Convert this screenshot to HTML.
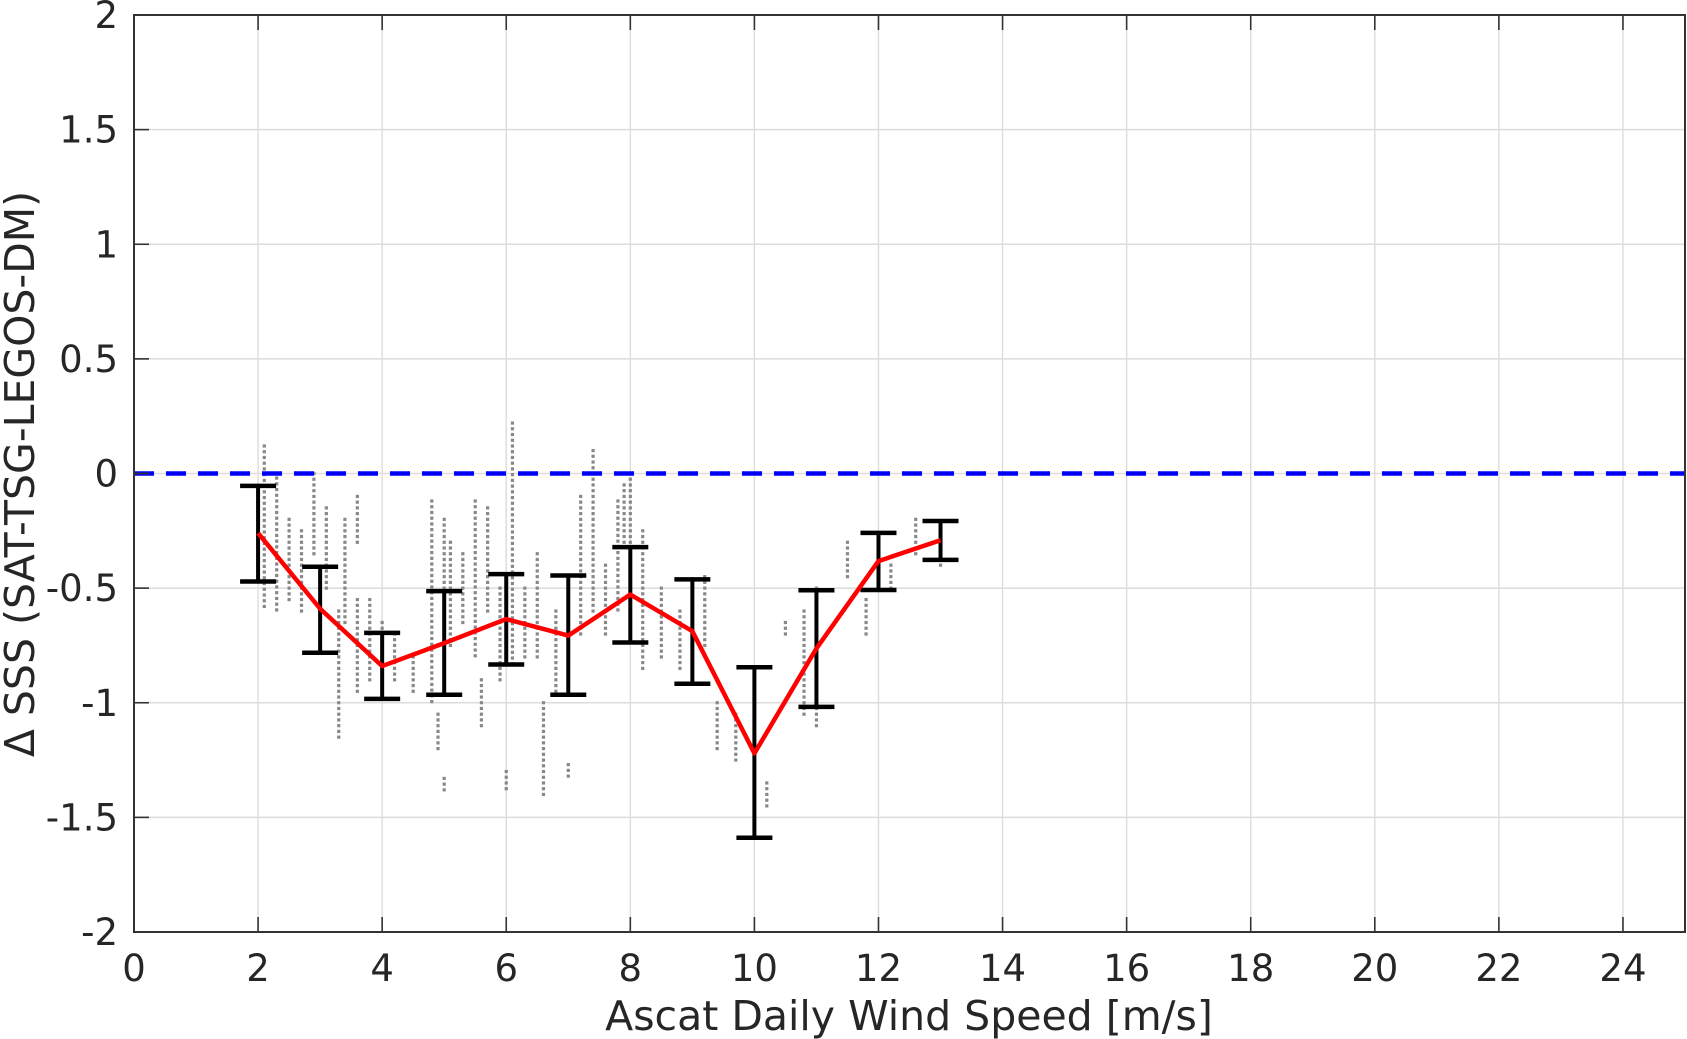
<!DOCTYPE html>
<html><head><meta charset="utf-8"><style>
html,body{margin:0;padding:0;background:#fff;}
svg{display:block;font-family:"DejaVu Sans","Liberation Sans",sans-serif;}
</style></head><body>
<svg id="chart" width="1687" height="1039" viewBox="0 0 1687 1039" xmlns="http://www.w3.org/2000/svg">
<rect x="0" y="0" width="1687" height="1039" fill="#fff"/>
<g id="grid"></g>
<g id="scatter"></g>
<g id="zero"></g>
<g id="bars"></g>
<g id="mean"></g>
<g id="axes"></g>
<text x="909" y="1030" font-size="41" fill="#262626" text-anchor="middle">Ascat Daily Wind Speed [m/s]</text>
<text transform="translate(34,474) rotate(-90)" font-size="41" fill="#262626" text-anchor="middle">Δ SSS (SAT-TSG-LEGOS-DM)</text>
</svg>
<script>
const xTicks=[0,2,4,6,8,10,12,14,16,18,20,22,24];
const yTicks=[-2,-1.5,-1,-0.5,0,0.5,1,1.5,2];
const yTickLabels=["-2","-1.5","-1","-0.5","0","0.5","1","1.5","2"];
const binX=[2,3,4,5,6,7,8,9,10,11,12,13];
const binMean=[-0.26,-0.59,-0.84,-0.74,-0.635,-0.707,-0.528,-0.688,-1.221,-0.763,-0.382,-0.291];
const binUpper=[-0.054,-0.407,-0.695,-0.513,-0.439,-0.445,-0.321,-0.462,-0.845,-0.509,-0.259,-0.207];
const binLower=[-0.471,-0.782,-0.983,-0.965,-0.833,-0.965,-0.737,-0.917,-1.589,-1.018,-0.508,-0.377];
const colX=[2.1,2.3,2.5,2.7,2.9,3.1,3.3,3.4,3.6,3.8,4.0,4.2,4.5,4.8,5.0,5.1,5.3,5.5,5.7,5.9,6.1,6.3,6.5,6.8,7.0,7.2,7.4,7.6,7.8,8.0,8.2,8.5,8.8,9.2,9.4,9.7,10.2,10.5,10.8,11.0,11.5,11.8,12.2,12.6,13.0,5.0,6.0,7.0,6.6,3.6,4.9,5.6,7.9];
const colTop=[0.12,-0.02,-0.2,-0.25,0.0,-0.15,-0.6,-0.2,-0.55,-0.55,-0.65,-0.7,-0.8,-0.12,-0.2,-0.3,-0.35,-0.12,-0.15,-0.5,0.22,-0.5,-0.35,-0.6,-0.5,-0.1,0.1,-0.4,-0.12,0.0,-0.25,-0.5,-0.6,-0.45,-1.0,-1.05,-1.35,-0.65,-0.6,-0.5,-0.3,-0.55,-0.4,-0.2,-0.25,-1.33,-1.3,-1.27,-1.0,-0.1,-1.05,-0.9,-0.05];
const colBot=[-0.6,-0.6,-0.55,-0.6,-0.35,-0.5,-1.15,-0.65,-0.95,-0.9,-0.95,-0.9,-0.95,-1.0,-0.9,-0.75,-0.65,-0.8,-0.6,-0.9,-0.85,-0.8,-0.8,-0.95,-0.9,-0.7,-0.6,-0.7,-0.6,-0.7,-0.85,-0.8,-0.85,-0.75,-1.2,-1.25,-1.45,-0.7,-1.05,-1.1,-0.45,-0.7,-0.5,-0.35,-0.4,-1.4,-1.38,-1.33,-1.4,-0.3,-1.2,-1.1,-0.3];
const L=134,R=1685,T=15,B=932,X0=0,X1=25,Y0=-2,Y1=2;
const sx=v=>L+(v-X0)/(X1-X0)*(R-L);
const sy=v=>B-(v-Y0)/(Y1-Y0)*(B-T);
const NS="http://www.w3.org/2000/svg";
function mk(tag,parent,attrs){const e=document.createElementNS(NS,tag);for(const k in attrs)e.setAttribute(k,attrs[k]);document.getElementById(parent).appendChild(e);return e;}
xTicks.forEach((t,i)=>{
 const g=mk('line','grid',{x1:sx(t),x2:sx(t),y1:T,y2:B,stroke:'#dcdcdc','stroke-width':1.4});
 
 
 const tk=mk('line','axes',{x1:sx(t),x2:sx(t),y1:B,y2:B-15,stroke:'#333','stroke-width':1.6});
 
 
 const tk2=mk('line','axes',{x1:sx(t),x2:sx(t),y1:T,y2:T+15,stroke:'#333','stroke-width':1.6});
 
 
 const lb=mk('text','axes',{x:sx(t),y:981,'font-size':37,fill:'#262626','text-anchor':'middle'});
 lb.textContent=String(t);
 
 
});
yTicks.forEach((t,i)=>{
 const g=mk('line','grid',{x1:L,x2:R,y1:sy(t),y2:sy(t),stroke:'#dcdcdc','stroke-width':1.4});
 
 
 const tk=mk('line','axes',{x1:L,x2:L+15,y1:sy(t),y2:sy(t),stroke:'#333','stroke-width':1.6});
 
 
 const lb=mk('text','axes',{x:118,y:sy(t)+13,'font-size':37,fill:'#262626','text-anchor':'end'});
 lb.textContent=yTickLabels[i];
 
 
});
const frame=mk('rect','axes',{x:L,y:T,width:R-L,height:B-T,fill:'none',stroke:'#333','stroke-width':2});


colX.forEach((x,i)=>{
 for(let v=colTop[i];v>=colBot[i]-1e-9;v-=0.025){
  const d=mk('rect','scatter',{x:sx(x)-1.6,y:sy(v)-1.6,width:3.2,height:3.2,fill:'#888'});
  
  
 }
});
const z=mk('line','zero',{x1:L,x2:R,y1:sy(0),y2:sy(0),stroke:'#0000ff','stroke-width':4.5,'stroke-dasharray':'20 12'});


binX.forEach((x,i)=>{
 const c=sx(x),w=18;
 const v=mk('line','bars',{x1:c,x2:c,y1:sy(binUpper[i]),y2:sy(binLower[i]),stroke:'#000','stroke-width':4});
 
 
 const a=mk('line','bars',{x1:c-w,x2:c+w,y1:sy(binUpper[i]),y2:sy(binUpper[i]),stroke:'#000','stroke-width':4.5});
 
 
 const b=mk('line','bars',{x1:c-w,x2:c+w,y1:sy(binLower[i]),y2:sy(binLower[i]),stroke:'#000','stroke-width':4.5});
 
 
});
const pl=mk('polyline','mean',{points:binX.map((x,i)=>sx(x)+','+sy(binMean[i])).join(' '),fill:'none',stroke:'#ff0000','stroke-width':4.5,'stroke-linejoin':'round'});


</script>
</body></html>
